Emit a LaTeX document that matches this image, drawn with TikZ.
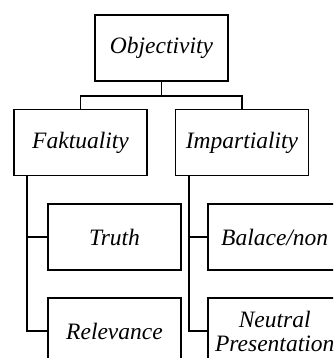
\documentclass[tikz,border=0pt]{standalone}
\usepackage{fontspec}
\setmainfont{Liberation Serif}
\begin{document}
\begin{tikzpicture}[x=1pt,y=-1pt,
    kotak/.style={draw,line width=1.6pt,minimum width=133pt,minimum height=66pt,inner sep=0pt,align=center,
      font=\fontsize{23.5}{24}\selectfont\itshape},
    garis/.style={line width=1.6pt}]
    \useasboundingbox (0,0) rectangle (333,358);
    \clip (0,0) rectangle (333,358);
    % Akar
    \node[kotak] (obj) at (161.5,48) {Objectivity};
    % Level 2
    \node[kotak] (fak) at (80.5,142.5) {Faktuality};
    \node[kotak] (imp) at (242,142.5) {Impartiality};
    % Level 3
    \node[kotak] (tru) at (114.5,237) {Truth};
    \node[kotak] (rel) at (114.5,331) {Relevance};
    \node[kotak] (bal) at (274.7,237) {Balace/non};
    \node[kotak] (neu) at (274.7,331) {Neutral\\Presentation};
    % Garis penghubung
    \draw[garis] (obj.south) -- ++(0,14) -| (fak.north);
    \draw[garis] (obj.south) -- ++(0,14) -| (imp.north);
    \draw[garis] ([xshift=14pt]fak.south west) |- (tru.west);
    \draw[garis] ([xshift=14pt]fak.south west) |- (rel.west);
    \draw[garis] ([xshift=14pt]imp.south west) |- (bal.west);
    \draw[garis] ([xshift=14pt]imp.south west) |- (neu.west);
\end{tikzpicture}
\end{document}
